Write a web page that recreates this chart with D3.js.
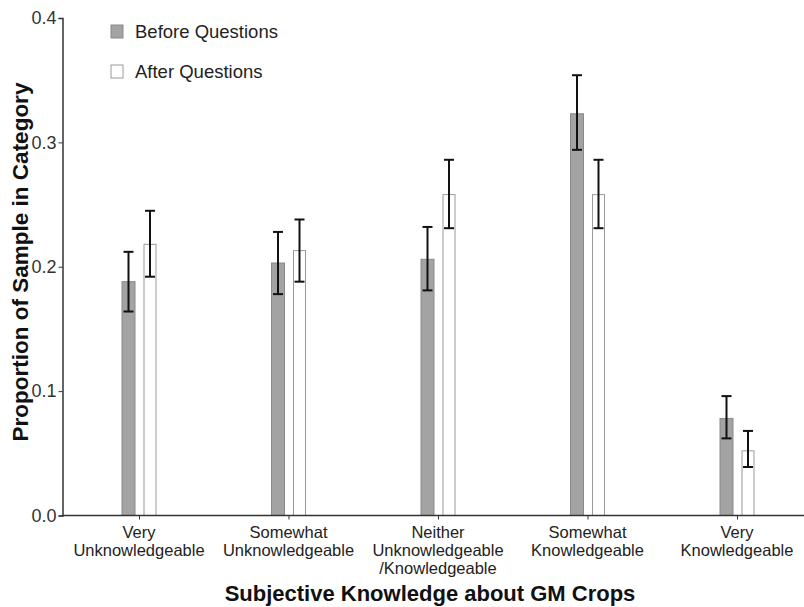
<!DOCTYPE html>
<html lang="en">
<head>
    <meta charset="UTF-8">
    <title>Subjective Knowledge about GM Crops</title>
    <script src="https://d3js.org/d3.v7.min.js"></script>
    <style>
        body { margin: 0; background: #fff; }
        svg { display: block; font-family: "Liberation Sans", Arial, sans-serif; }
    </style>
</head>
<body>
<script>

  // DATA
  const categories = [
    ["Very", "Unknowledgeable"],
    ["Somewhat", "Unknowledgeable"],
    ["Neither", "Unknowledgeable", "/Knowledgeable"],
    ["Somewhat", "Knowledgeable"],
    ["Very", "Knowledgeable"]
  ];
  const seriesNames = ["Before Questions", "After Questions"];

  const before = [0.188, 0.203, 0.206, 0.323, 0.078];
  const beforeLow = [0.164, 0.178, 0.181, 0.294, 0.062];
  const beforeHigh = [0.212, 0.228, 0.232, 0.354, 0.096];

  const after = [0.218, 0.213, 0.258, 0.258, 0.052];
  const afterLow = [0.192, 0.188, 0.231, 0.231, 0.039];
  const afterHigh = [0.245, 0.238, 0.286, 0.286, 0.068];

  const yTicks = [0, 0.1, 0.2, 0.3, 0.4];

  // SVG
  const W = 804, H = 607;
  const svg = d3.select("body").append("svg").attr("width", W).attr("height", H);

  // SCALES
  const keys = categories.map((c, i) => "c" + i);
  const x = d3.scalePoint().domain(keys).range([139, 737]);
  const y = d3.scaleLinear().domain([0, 0.4]).range([515.5, 18]);

  const barW = 13, gap = 4;

  // BARS
  const rows = keys.map((k, i) => ({
    k: k,
    b: before[i], bl: beforeLow[i], bh: beforeHigh[i],
    a: after[i], al: afterLow[i], ah: afterHigh[i]
  }));

  const g = svg.append("g");

  g.selectAll(".bef").data(rows).enter().append("rect")
    .attr("x", d => x(d.k) - gap - barW)
    .attr("y", d => y(d.b))
    .attr("width", barW)
    .attr("height", d => y(0) - y(d.b))
    .attr("fill", "#a3a3a3")
    .attr("stroke", "#8a8a8a")
    .attr("stroke-width", 1);

  g.selectAll(".aft").data(rows).enter().append("rect")
    .attr("x", d => x(d.k) + gap + 1)
    .attr("y", d => y(d.a))
    .attr("width", barW - 1)
    .attr("height", d => y(0) - y(d.a))
    .attr("fill", "#fff")
    .attr("stroke", "#9a9a9a")
    .attr("stroke-width", 1);

  // ERROR BARS
  function errBars(cx, lo, hi) {
    const eg = g.append("g").selectAll("g").data(rows).enter().append("g")
      .attr("stroke", "#111").attr("stroke-width", 2);
    eg.append("line")
      .attr("x1", d => cx(d)).attr("x2", d => cx(d))
      .attr("y1", d => y(hi(d))).attr("y2", d => y(lo(d)));
    eg.append("line")
      .attr("x1", d => cx(d) - 5).attr("x2", d => cx(d) + 5)
      .attr("y1", d => y(hi(d))).attr("y2", d => y(hi(d)));
    eg.append("line")
      .attr("x1", d => cx(d) - 5).attr("x2", d => cx(d) + 5)
      .attr("y1", d => y(lo(d))).attr("y2", d => y(lo(d)));
  }
  errBars(d => x(d.k) - gap - barW / 2, d => d.bl, d => d.bh);
  errBars(d => x(d.k) + gap + 1 + (barW - 1) / 2, d => d.al, d => d.ah);

  // Y AXIS
  const yAxis = d3.axisLeft(y).tickValues(yTicks).tickFormat(d3.format(".1f")).tickSize(4).tickPadding(2);
  const ya = svg.append("g").attr("transform", "translate(62.5,0)").call(yAxis);
  ya.select(".domain").attr("stroke", "#333").attr("stroke-width", 1.5);
  ya.selectAll(".tick line").attr("stroke", "#333");
  ya.selectAll(".tick text").attr("font-size", 18).attr("fill", "#333")
    .attr("font-family", "Liberation Sans, Arial, sans-serif");

  // X AXIS
  const xAxis = d3.axisBottom(x).tickSize(4).tickFormat("");
  const xa = svg.append("g").attr("transform", "translate(0," + y(0) + ")").call(xAxis);
  xa.select(".domain").remove();
  xa.selectAll(".tick line").attr("stroke", "#333");
  svg.append("line")
    .attr("x1", 62).attr("x2", 804)
    .attr("y1", y(0)).attr("y2", y(0))
    .attr("stroke", "#333").attr("stroke-width", 1.5);

  // category labels
  const lab = svg.append("g").selectAll("text").data(keys).enter().append("text")
    .attr("x", d => x(d))
    .attr("y", 538)
    .attr("text-anchor", "middle")
    .attr("font-size", 16.5)
    .attr("fill", "#222");
  lab.each(function(d, i) {
    const t = d3.select(this);
    categories[i].forEach((line, j) => {
      t.append("tspan").attr("x", x(d)).attr("dy", j === 0 ? 0 : 18).text(line);
    });
  });

  // AXIS TITLES
  svg.append("text")
    .attr("x", 430).attr("y", 601)
    .attr("text-anchor", "middle")
    .attr("font-size", 22).attr("font-weight", "bold").attr("fill", "#111")
    .text("Subjective Knowledge about GM Crops");

  svg.append("text")
    .attr("transform", "translate(28,262) rotate(-90)")
    .attr("text-anchor", "middle")
    .attr("font-size", 22.5).attr("font-weight", "bold").attr("fill", "#111")
    .text("Proportion of Sample in Category");

  // LEGEND
  const fills = ["#a3a3a3", "#fff"];
  const strokes = ["#8a8a8a", "#9a9a9a"];
  const leg = svg.append("g").selectAll("g").data(seriesNames).enter().append("g")
    .attr("transform", (d, i) => "translate(111," + (25 + i * 40) + ")");
  leg.append("rect")
    .attr("width", 12).attr("height", 13)
    .attr("fill", (d, i) => fills[i]).attr("stroke", (d, i) => strokes[i]);
  leg.append("text")
    .attr("x", 24).attr("y", 13)
    .attr("font-size", 18.5).attr("fill", "#222")
    .text(d => d);

</script>
</body>
</html>
